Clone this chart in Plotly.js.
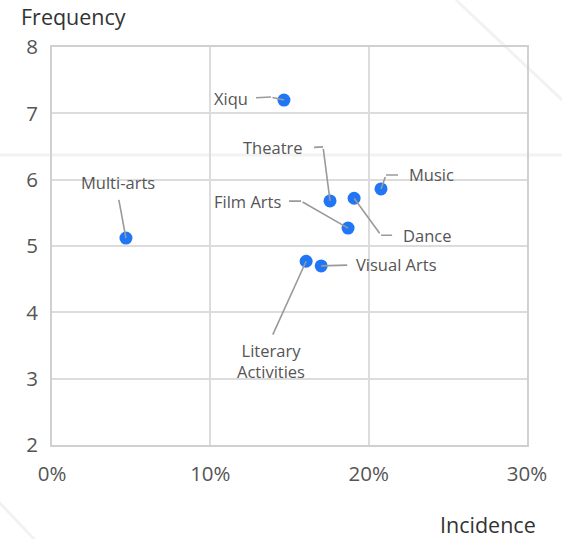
<!DOCTYPE html>
<html>
<head>
<meta charset="utf-8">
<script src="https://cdn.plot.ly/plotly-3.0.1.min.js"></script>
<style>html,body{margin:0;padding:0;background:#fff;}#chart{width:562px;height:539px;}</style>
</head>
<body>
<div id="chart"></div>
<script>
// ---- data ----
var artForms = ['Xiqu', 'Theatre', 'Film Arts', 'Music', 'Dance', 'Visual Arts', 'Literary Activities', 'Multi-arts'];
var incidence = [0.1465, 0.1756, 0.1870, 0.2078, 0.1908, 0.1700, 0.1605, 0.0467];
var frequency = [7.20, 5.68, 5.27, 5.86, 5.72, 4.70, 4.77, 5.12];
var xTickVals = [0, 0.1, 0.2, 0.3];
var xTickText = ['0%', '10%', '20%', '30%'];
var yTickVals = [2, 3, 4, 5, 6, 7, 8];

// ---- label leader geometry (pixel offsets from the point, y down) ----
// [elbowDx, elbowDy, textDx, textDy, xanchor, yanchor, startGap]
var leader = [
  [-13, -3, -35, -2, 'right', 'middle', 7],
  [-7, -54, -26, -53, 'right', 'middle', 10],
  [-47, -27, -66, -27, 'right', 'middle', 7],
  [5, -14, 27, -14, 'left', 'middle', 10],
  [27, 37, 48, 37, 'left', 'middle', 10],
  [0, 0, 34, -1, 'left', 'middle', 8],
  [0, 0, -35, 77, 'center', 'top', 4],
  [0, 0, -8, -43, 'center', 'bottom', 5]
];

var labelFont = {family: 'Open Sans, sans-serif', size: 16.5, color: '#555555'};
var lineColor = '#9a9a9a';
var annotations = [];
artForms.forEach(function (name, i) {
  var g = leader[i];
  var ex = g[0], ey = g[1];
  if (ex !== 0 || ey !== 0) {
    annotations.push({
      x: incidence[i], y: frequency[i], xref: 'x', yref: 'y',
      text: ' ', font: {size: 1},
      showarrow: true, arrowhead: 0, arrowwidth: 1.6, arrowcolor: lineColor,
      ax: ex, ay: ey, standoff: 0, startstandoff: 0
    });
  }
  annotations.push({
    x: incidence[i], y: frequency[i], xref: 'x', yref: 'y',
    xshift: ex, yshift: -ey,
    text: name === 'Literary Activities' ? 'Literary<br>Activities' : name,
    font: labelFont, align: 'center',
    showarrow: true, arrowhead: 0, arrowwidth: 1.6, arrowcolor: lineColor,
    ax: g[2] - ex, ay: g[3] - ey,
    xanchor: g[4], yanchor: g[5],
    standoff: 0, startstandoff: g[6], borderpad: 0
  });
});

// axis titles
annotations.push({
  xref: 'paper', yref: 'paper', x: -0.07, y: 1.117, xanchor: 'left', yanchor: 'top',
  text: 'Frequency', showarrow: false,
  font: {family: 'Open Sans, sans-serif', size: 21.5, color: '#333333'}
});
annotations.push({
  xref: 'paper', yref: 'paper', x: 1.0232, y: -0.2, xanchor: 'right', yanchor: 'middle',
  text: 'Incidence', showarrow: false,
  font: {family: 'Open Sans, sans-serif', size: 21.5, color: '#333333'}
});

var trace = {
  type: 'scatter', mode: 'markers',
  x: incidence, y: frequency, text: artForms,
  marker: {size: 13, color: '#2176f5'},
  hoverinfo: 'text+x+y'
};

var faint = {color: '#f2f2f2', width: 3};
var layout = {
  width: 562, height: 539,
  margin: {l: 52, r: 35, t: 47, b: 94},
  paper_bgcolor: '#ffffff', plot_bgcolor: 'rgba(0,0,0,0)',
  showlegend: false,
  font: {family: 'Open Sans, sans-serif', color: '#555555'},
  xaxis: {
    range: [0, 0.3], tickvals: xTickVals, ticktext: xTickText,
    showgrid: true, gridcolor: '#dcdcdc', gridwidth: 2,
    showline: true, mirror: true, linecolor: '#d0d0d0', linewidth: 2,
    zeroline: false, ticks: '', ticklabelstandoff: 9,
    tickfont: {family: 'Open Sans, sans-serif', size: 20.5, color: '#555555'},
    fixedrange: true
  },
  yaxis: {
    range: [2, 8], tickvals: yTickVals,
    showgrid: true, gridcolor: '#dcdcdc', gridwidth: 2,
    showline: true, mirror: true, linecolor: '#d0d0d0', linewidth: 2,
    zeroline: false, ticks: '', ticklabelstandoff: 8,
    tickfont: {family: 'Open Sans, sans-serif', size: 20.5, color: '#555555'},
    fixedrange: true
  },
  shapes: [
    {type: 'line', xref: 'paper', yref: 'paper', x0: 0.8505, y0: 1.1181, x1: 1.16, y1: 0.77, line: faint, layer: 'below'},
    {type: 'line', xref: 'paper', yref: 'paper', x0: -0.12, y0: 0.7286, x1: 1.1, y1: 0.7286, line: faint, layer: 'below'},
    {type: 'line', xref: 'paper', yref: 'paper', x0: -0.13, y0: -0.12, x1: -0.035, y1: -0.24, line: faint, layer: 'below'}
  ],
  annotations: annotations
};

Plotly.newPlot('chart', [trace], layout, {displayModeBar: false, staticPlot: true});
</script>
</body>
</html>
